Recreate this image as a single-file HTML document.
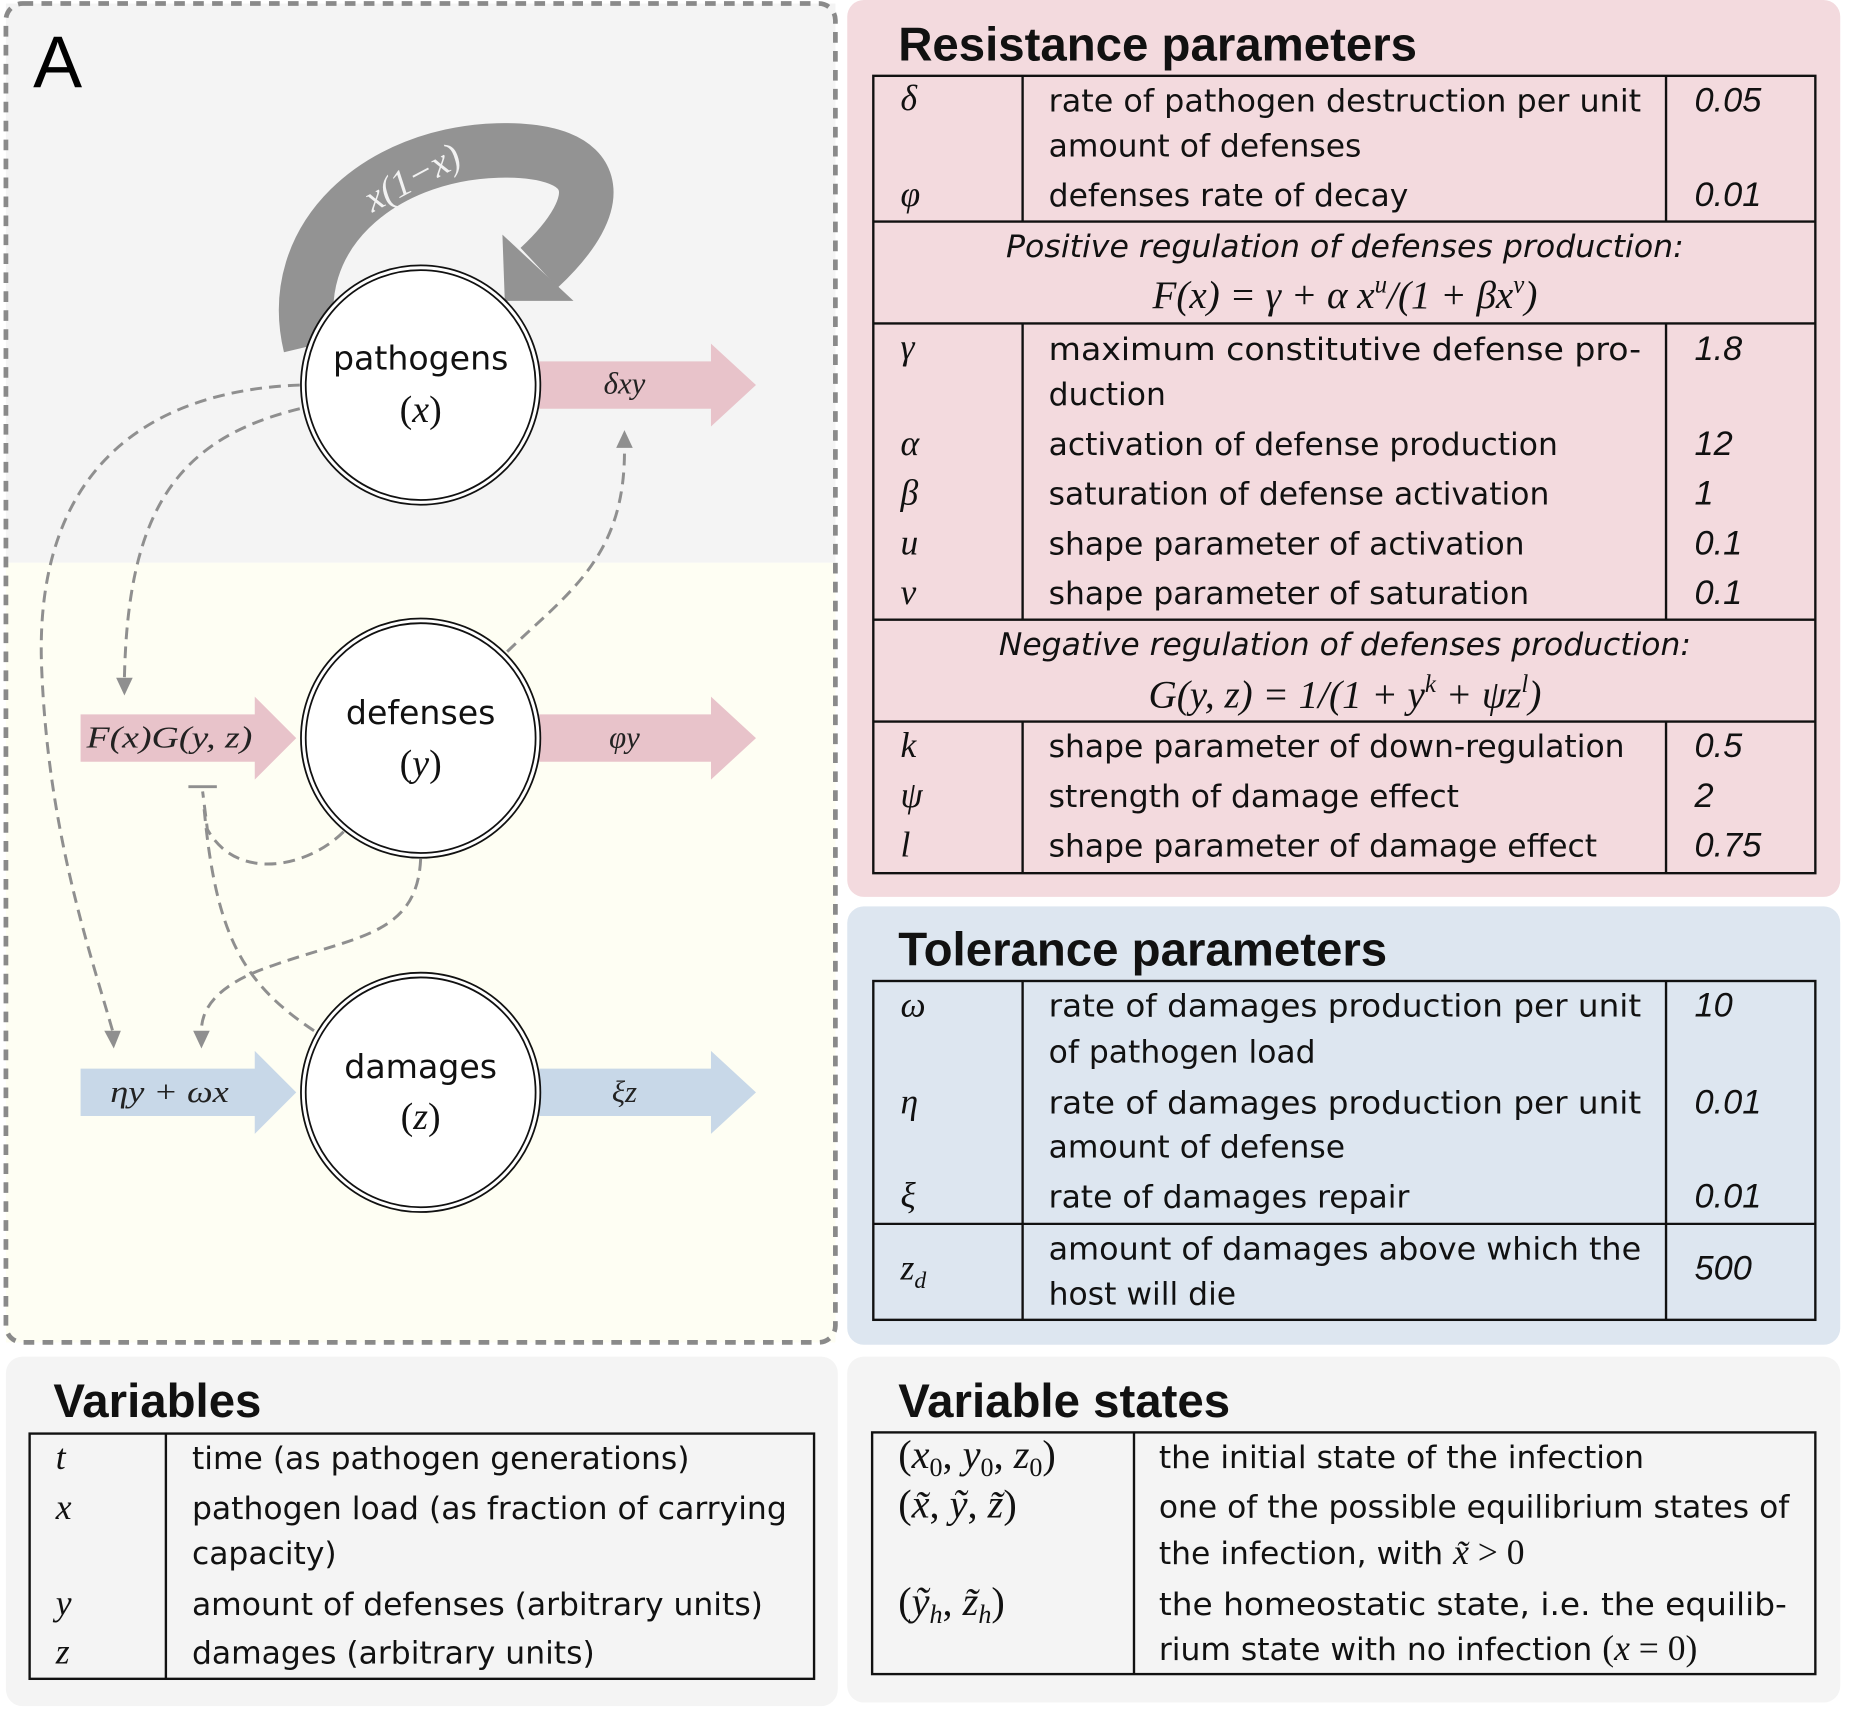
<!DOCTYPE html>
<html><head><meta charset="utf-8"><style>
html,body{margin:0;padding:0;background:#fff;}
svg{display:block}
.t{font-family:"DejaVu Sans",sans-serif;font-size:26.5px;fill:#111}
.h{font-family:"Liberation Sans",sans-serif;font-size:40px;font-weight:bold;fill:#111}
.m{font-family:"Liberation Serif",serif;font-style:italic;font-size:30px;fill:#111}
.v{font-family:"Liberation Sans",sans-serif;font-style:italic;font-size:29px;fill:#111}
.i{font-family:"DejaVu Sans",sans-serif;font-style:oblique;font-size:26px;fill:#111}
.al{font-family:"Liberation Serif",serif;font-style:italic;font-size:26px;fill:#222}
.d{fill:none;stroke:#8f8f8f;stroke-width:2.5;stroke-dasharray:10 6}
</style></head><body>
<svg width="1858" height="1712" viewBox="0 0 1568 1445" preserveAspectRatio="none" xmlns="http://www.w3.org/2000/svg">
<rect width="1568" height="1445" fill="#fff"/>
<!-- Panel A -->
<rect x="5" y="3" width="700" height="472" fill="#f4f4f4"/>
<rect x="5" y="475" width="700" height="658" fill="#fefef3"/>
<rect x="5" y="3" width="700" height="1130" rx="14" fill="none" stroke="#8a8a8a" stroke-width="4" stroke-dasharray="9 7"/>
<text x="28" y="74" style="font-family:'Liberation Sans',sans-serif;font-size:62px;fill:#000">A</text>

<!-- self loop -->
<path d="M262 292 C 240 200, 320 130, 420 127 C 510 125, 515 170, 455 226" fill="none" stroke="#939393" stroke-width="46"/>
<polygon points="424,198 484,254 426,254" fill="#939393"/>
<text x="348" y="150" transform="rotate(-28 348 150)" text-anchor="middle" dominant-baseline="central" style="font-family:'Liberation Serif',serif;font-style:italic;font-size:32px;fill:#f2f2f2">x(1−x)</text>

<!-- arrows -->
<g fill="#e8c3ca">
<polygon points="455,305 600,305 600,290 638,325 600,360 600,345 455,345"/>
<polygon points="455,603 600,603 600,588 638,623 600,658 600,643 455,643"/>
<polygon points="68,603 215,603 215,588 250,623 215,658 215,643 68,643"/>
</g>
<g fill="#c8d8e8">
<polygon points="455,902 600,902 600,887 638,922 600,957 600,942 455,942"/>
<polygon points="68,902 215,902 215,887 250,922 215,957 215,942 68,942"/>
</g>
<text x="527" y="332" class="al" text-anchor="middle">δxy</text>
<text x="527" y="631" class="al" text-anchor="middle">φy</text>
<text x="527" y="930" class="al" text-anchor="middle">ξz</text>
<text x="143" y="631" class="al" text-anchor="middle" textLength="140" lengthAdjust="spacingAndGlyphs">F(x)G(y, z)</text>
<text x="143" y="930" class="al" text-anchor="middle" textLength="100" lengthAdjust="spacingAndGlyphs">ηy + ωx</text>

<!-- dashed connectors -->
<path class="d" d="M253 325 C 120 330, 30 400, 35 560 C 40 700, 75 800, 95 870"/>
<polygon points="88,870 102,870 96,885" fill="#8f8f8f"/>
<path class="d" d="M253 345 C 150 370, 108 430, 105 572"/>
<polygon points="98,572 112,572 105,587" fill="#8f8f8f"/>
<path class="d" d="M428 550 C 480 500, 528 470, 527 378"/>
<polygon points="520,378 534,378 527,363" fill="#8f8f8f"/>
<path class="d" d="M290 702 C 260 732, 200 745, 175 700 L171 668"/>
<line x1="159" y1="664" x2="183" y2="664" stroke="#8f8f8f" stroke-width="2.5"/>
<path class="d" d="M355 725 C 352 790, 300 790, 230 815 C 185 830, 170 850, 170 870"/>
<polygon points="163,870 177,870 170,885" fill="#8f8f8f"/>
<path class="d" d="M265 870 C 205 830, 182 790, 172 680"/>

<!-- nodes -->
<g fill="#fff" stroke="#111">
<circle cx="355" cy="325" r="101" stroke-width="1.5"/><circle cx="355" cy="325" r="97" stroke-width="1.5"/>
<circle cx="355" cy="623" r="101" stroke-width="1.5"/><circle cx="355" cy="623" r="97" stroke-width="1.5"/>
<circle cx="355" cy="922" r="101" stroke-width="1.5"/><circle cx="355" cy="922" r="97" stroke-width="1.5"/>
</g>
<g text-anchor="middle">
<text x="355" y="312" class="t" style="font-size:28px">pathogens</text>
<text x="355" y="356" class="m" style="font-style:normal;font-size:32px">(<tspan font-style="italic">x</tspan>)</text>
<text x="355" y="611" class="t" style="font-size:28px">defenses</text>
<text x="355" y="655" class="m" style="font-style:normal;font-size:32px">(<tspan font-style="italic">y</tspan>)</text>
<text x="355" y="910" class="t" style="font-size:28px">damages</text>
<text x="355" y="953" class="m" style="font-style:normal;font-size:32px">(<tspan font-style="italic">z</tspan>)</text>
</g>

<!-- Resistance -->
<rect x="715" y="0" width="838" height="757" rx="14" fill="#f3dade"/>
<text x="758" y="51" class="h">Resistance parameters</text>
<g fill="none" stroke="#111" stroke-width="2">
<rect x="737" y="64" width="795" height="673"/>
<line x1="737" y1="187" x2="1532" y2="187"/><line x1="737" y1="273" x2="1532" y2="273"/>
<line x1="737" y1="523" x2="1532" y2="523"/><line x1="737" y1="609" x2="1532" y2="609"/>
<line x1="863" y1="64" x2="863" y2="187"/><line x1="1406" y1="64" x2="1406" y2="187"/>
<line x1="863" y1="273" x2="863" y2="523"/><line x1="1406" y1="273" x2="1406" y2="523"/>
<line x1="863" y1="609" x2="863" y2="737"/><line x1="1406" y1="609" x2="1406" y2="737"/>
</g>
<g>
<text x="760" y="93" class="m">δ</text><text x="885" y="94" class="t" textLength="500" lengthAdjust="spacingAndGlyphs">rate of pathogen destruction per unit</text><text x="1430" y="94" class="v">0.05</text>
<text x="885" y="132" class="t">amount of defenses</text>
<text x="760" y="174" class="m">φ</text><text x="885" y="174" class="t">defenses rate of decay</text><text x="1430" y="174" class="v">0.01</text>
<text x="1135" y="217" class="i" text-anchor="middle" textLength="572" lengthAdjust="spacingAndGlyphs">Positive regulation of defenses production:</text>
<text x="1135" y="260" class="m" text-anchor="middle" style="font-size:33px">F(x) = γ + α x<tspan dy="-13" font-size="21">u</tspan><tspan dy="13">/(1 + βx</tspan><tspan dy="-13" font-size="21">v</tspan><tspan dy="13">)</tspan></text>
<text x="760" y="303" class="m">γ</text><text x="885" y="304" class="t" textLength="500" lengthAdjust="spacingAndGlyphs">maximum  constitutive  defense  pro-</text><text x="1430" y="304" class="v">1.8</text>
<text x="885" y="342" class="t">duction</text>
<text x="760" y="384" class="m">α</text><text x="885" y="384" class="t">activation of defense production</text><text x="1430" y="384" class="v">12</text>
<text x="760" y="426" class="m">β</text><text x="885" y="426" class="t">saturation of defense activation</text><text x="1430" y="426" class="v">1</text>
<text x="760" y="468" class="m">u</text><text x="885" y="468" class="t">shape parameter of activation</text><text x="1430" y="468" class="v">0.1</text>
<text x="760" y="510" class="m">v</text><text x="885" y="510" class="t">shape parameter of saturation</text><text x="1430" y="510" class="v">0.1</text>
<text x="1135" y="553" class="i" text-anchor="middle" textLength="584" lengthAdjust="spacingAndGlyphs">Negative regulation of defenses production:</text>
<text x="1135" y="597" class="m" text-anchor="middle" style="font-size:33px">G(y, z) = 1/(1 + y<tspan dy="-13" font-size="21">k</tspan><tspan dy="13"> + ψz</tspan><tspan dy="-13" font-size="21">l</tspan><tspan dy="13">)</tspan></text>
<text x="760" y="639" class="m">k</text><text x="885" y="639" class="t">shape parameter of down-regulation</text><text x="1430" y="639" class="v">0.5</text>
<text x="760" y="681" class="m">ψ</text><text x="885" y="681" class="t">strength of damage effect</text><text x="1430" y="681" class="v">2</text>
<text x="760" y="723" class="m">l</text><text x="885" y="723" class="t">shape parameter of damage effect</text><text x="1430" y="723" class="v">0.75</text>
</g>

<!-- Tolerance -->
<rect x="715" y="765" width="838" height="370" rx="14" fill="#dde6f0"/>
<text x="758" y="815" class="h">Tolerance parameters</text>
<g fill="none" stroke="#111" stroke-width="2">
<rect x="737" y="828" width="795" height="286"/>
<line x1="737" y1="1033" x2="1532" y2="1033"/>
<line x1="863" y1="828" x2="863" y2="1114"/><line x1="1406" y1="828" x2="1406" y2="1114"/>
</g>
<text x="760" y="858" class="m">ω</text><text x="885" y="858" class="t" textLength="500" lengthAdjust="spacingAndGlyphs">rate of damages production per unit</text><text x="1430" y="858" class="v">10</text>
<text x="885" y="897" class="t">of pathogen load</text>
<text x="760" y="940" class="m">η</text><text x="885" y="940" class="t" textLength="500" lengthAdjust="spacingAndGlyphs">rate of damages production per unit</text><text x="1430" y="940" class="v">0.01</text>
<text x="885" y="977" class="t">amount of defense</text>
<text x="760" y="1019" class="m">ξ</text><text x="885" y="1019" class="t">rate of damages repair</text><text x="1430" y="1019" class="v">0.01</text>
<text x="760" y="1080" class="m">z<tspan dy="7" font-size="20">d</tspan></text>
<text x="885" y="1063" class="t" textLength="500" lengthAdjust="spacingAndGlyphs">amount of damages above which the</text>
<text x="885" y="1101" class="t">host will die</text><text x="1430" y="1080" class="v">500</text>

<!-- Variables -->
<rect x="5" y="1145" width="702" height="295" rx="14" fill="#f4f4f4"/>
<text x="45" y="1196" class="h">Variables</text>
<g fill="none" stroke="#111" stroke-width="2">
<rect x="25" y="1210" width="662" height="207"/>
<line x1="140" y1="1210" x2="140" y2="1417"/>
</g>
<text x="47" y="1240" class="m">t</text><text x="162" y="1240" class="t">time (as pathogen generations)</text>
<text x="47" y="1282" class="m">x</text><text x="162" y="1282" class="t" textLength="502" lengthAdjust="spacingAndGlyphs">pathogen load (as fraction of carrying</text>
<text x="162" y="1320" class="t">capacity)</text>
<text x="47" y="1363" class="m">y</text><text x="162" y="1363" class="t">amount of defenses (arbitrary units)</text>
<text x="47" y="1404" class="m">z</text><text x="162" y="1404" class="t">damages (arbitrary units)</text>

<!-- Variable states -->
<rect x="715" y="1145" width="838" height="292" rx="14" fill="#f4f4f4"/>
<text x="758" y="1196" class="h">Variable states</text>
<g fill="none" stroke="#111" stroke-width="2">
<rect x="736" y="1209" width="796" height="204"/>
<line x1="957" y1="1209" x2="957" y2="1413"/>
</g>
<text x="758" y="1239" class="m" style="font-style:normal;font-size:34px">(<tspan font-style="italic">x</tspan><tspan dy="7" font-size="22">0</tspan><tspan dy="-7">, </tspan><tspan font-style="italic">y</tspan><tspan dy="7" font-size="22">0</tspan><tspan dy="-7">, </tspan><tspan font-style="italic">z</tspan><tspan dy="7" font-size="22">0</tspan><tspan dy="-7">)</tspan></text>
<text x="978" y="1239" class="t">the initial state of the infection</text>
<text x="758" y="1281" class="m" style="font-style:normal;font-size:34px">(<tspan font-style="italic">x̃</tspan>, <tspan font-style="italic">ỹ</tspan>, <tspan font-style="italic">z̃</tspan>)</text>
<text x="978" y="1281" class="t" textLength="532" lengthAdjust="spacingAndGlyphs">one of the possible equilibrium states of</text>
<text x="978" y="1320" class="t">the infection, with <tspan style="font-family:'Liberation Serif',serif;font-style:italic;font-size:30px">x̃ </tspan><tspan style="font-family:'Liberation Serif',serif;font-size:30px">&gt; 0</tspan></text>
<text x="758" y="1363" class="m" style="font-style:normal;font-size:34px">(<tspan font-style="italic">ỹ</tspan><tspan dy="7" font-size="22" font-style="italic">h</tspan><tspan dy="-7">, </tspan><tspan font-style="italic">z̃</tspan><tspan dy="7" font-size="22" font-style="italic">h</tspan><tspan dy="-7">)</tspan></text>
<text x="978" y="1363" class="t" textLength="530" lengthAdjust="spacingAndGlyphs">the homeostatic state, i.e. the equilib-</text>
<text x="978" y="1401" class="t">rium state with no infection <tspan style="font-family:'Liberation Serif',serif;font-size:30px">(<tspan font-style="italic">x</tspan> = 0)</tspan></text>
</svg>
</body></html>
